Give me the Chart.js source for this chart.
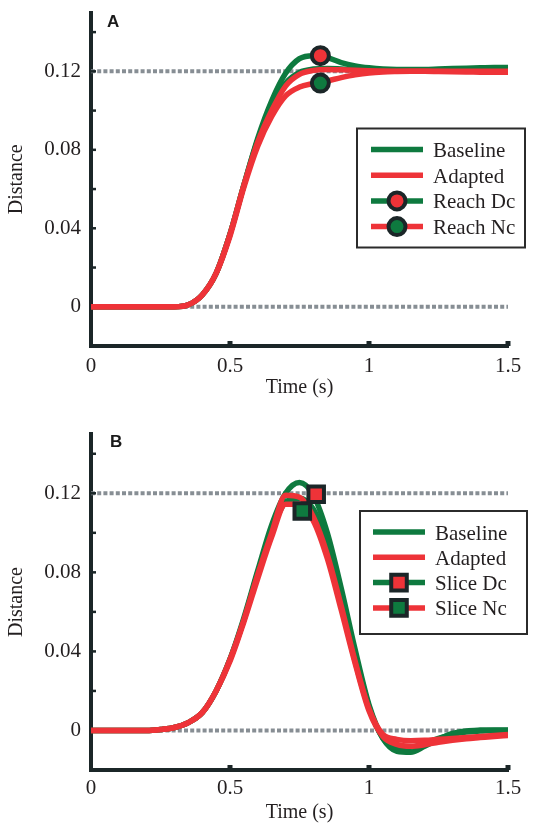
<!DOCTYPE html>
<html><head><meta charset="utf-8">
<script src="https://cdn.jsdelivr.net/npm/chart.js@4/dist/chart.umd.min.js"></script>
<style>
html,body{margin:0;padding:0;background:#fff;}
#wrap{position:relative;width:541px;height:826px;overflow:hidden;}
canvas{position:absolute;left:0;}
#cA{top:0;} #cB{top:413px;}
</style></head><body>
<div id="wrap"><canvas id="cA" width="541" height="413"></canvas><canvas id="cB" width="541" height="413"></canvas></div>
<script>
// ---------- data ----------
const time = [0,0.05,0.1,0.15,0.2,0.25,0.3,0.35,0.4,0.45,0.5,0.55,0.6,0.65,0.7,0.75,0.8,0.85,0.9,0.95,1,1.05,1.1,1.15,1.2,1.25,1.3,1.35,1.4,1.45,1.5];

// Panel A: reach
const reachBaselineDc = [0,0,0,0,0,0,0,0.001,0.006,0.017,0.037,0.062,0.086,0.105,0.119,0.1265,0.128,0.127,0.1245,0.1228,0.1218,0.1212,0.121,0.121,0.121,0.1212,0.1214,0.1216,0.1218,0.122,0.122];
const reachBaselineNc = [0,0,0,0,0,0,0,0.001,0.006,0.017,0.037,0.062,0.085,0.102,0.114,0.1195,0.1212,0.1215,0.1212,0.1208,0.1205,0.1203,0.1202,0.1202,0.1202,0.1202,0.1203,0.1203,0.1203,0.1204,0.1204];
const reachAdaptedDc  = [0,0,0,0,0,0,0,0.001,0.006,0.017,0.037,0.062,0.084,0.1,0.1125,0.1185,0.1205,0.121,0.1208,0.1205,0.1203,0.1202,0.1201,0.12,0.12,0.12,0.12,0.12,0.12,0.12,0.12];
const reachAdaptedNc  = [0,0,0,0,0,0,0,0.001,0.006,0.017,0.036,0.061,0.082,0.097,0.1075,0.112,0.1138,0.1152,0.1168,0.1182,0.1192,0.1197,0.1199,0.12,0.12,0.1199,0.1198,0.1197,0.1196,0.1195,0.1195];
const reachMarkerTime  = [0.825, 0.825];   // Dc, Nc
const reachMarkerValue = [0.128, 0.114];

// Panel B: slice
const sliceBaselineDc = [0,0,0,0,0,0.0005,0.0015,0.004,0.009,0.02,0.036,0.057,0.081,0.104,0.12,0.1255,0.119,0.1,0.072,0.041,0.013,-0.004,-0.0105,-0.011,-0.008,-0.0045,-0.0015,-0.0002,0.0002,0.0003,0.0002];
const sliceBaselineNc = [0,0,0,0,0,0.0005,0.0015,0.004,0.009,0.02,0.036,0.056,0.08,0.101,0.1155,0.1175,0.112,0.095,0.069,0.039,0.012,-0.004,-0.0085,-0.0085,-0.0065,-0.004,-0.002,-0.0008,-0.0003,0,0];
const sliceAdaptedDc  = [0,0,0,0,0,0.0005,0.0015,0.004,0.009,0.02,0.036,0.056,0.079,0.1,0.119,0.118,0.108,0.089,0.063,0.035,0.011,-0.002,-0.0045,-0.0052,-0.005,-0.0045,-0.004,-0.0035,-0.003,-0.0025,-0.002];
const sliceAdaptedNc  = [0,0,0,0,0,0.0005,0.0015,0.004,0.009,0.02,0.035,0.055,0.077,0.098,0.1145,0.1145,0.106,0.087,0.061,0.034,0.01,-0.003,-0.007,-0.008,-0.0072,-0.006,-0.005,-0.0042,-0.0036,-0.003,-0.0025];
const sliceMarkerTime  = [0.81, 0.76];     // Dc, Nc
const sliceMarkerValue = [0.1195, 0.111];

// reference (dotted) levels and axis ticks
const refLevels = [0, 0.12];
const xTickLabels = [0, 0.5, 1, 1.5];
const yTickLabels = [0, 0.04, 0.08, 0.12];
const xTickMarks = [0.5, 1, 1.5];
const yTickMarks = [0.02, 0.04, 0.06, 0.08, 0.1, 0.12, 0.14];
const legendLabelsA = ['Baseline', 'Adapted', 'Reach Dc', 'Reach Nc'];
const legendLabelsB = ['Baseline', 'Adapted', 'Slice Dc', 'Slice Nc'];
const panelTags = ['A', 'B'];

// ---------- styles ----------
const GREEN = '#0e7a3f', RED = '#ee3338', DARK = '#1b2628', GREY = '#878e94', TEXT = '#231f20';
const SERIF = '"Liberation Serif", "Times New Roman", serif';
const SANS = '"Liberation Sans", Arial, sans-serif';

function pts(xs, ys) { return xs.map((x, i) => ({x: x, y: ys[i]})); }
function curve(label, color, ys, order) {
  return {label, data: pts(time, ys), borderColor: color, backgroundColor: color, borderWidth: 5.5,
    pointRadius: 0, pointHoverRadius: 0, cubicInterpolationMode: 'monotone', fill: false, order,
    borderCapStyle: 'butt', borderJoinStyle: 'round'};
}
function refLine(y) {
  return {label: 'ref', data: [{x: time[0], y}, {x: time[time.length - 1], y}], borderColor: GREY,
    borderWidth: 4, borderDash: [4, 2.2], pointRadius: 0, order: 20, fill: false};
}
function marker(label, t, v, style, fill, r) {
  return {label, data: [{x: t, y: v}], showLine: false, pointStyle: style, pointRadius: r, pointHoverRadius: r,
    pointBackgroundColor: fill, pointBorderColor: DARK, pointBorderWidth: 4, order: 1};
}

const overlay = {
  id: 'overlay',
  afterDatasetsDraw(chart, args, o) {
    const ctx = chart.ctx, ca = chart.chartArea, xs = chart.scales.x, ys = chart.scales.y;
    ctx.save();
    // inward tick marks
    ctx.fillStyle = DARK;
    yTickMarks.forEach(v => { const py = ys.getPixelForValue(v); ctx.fillRect(ca.left, py - 1.25, 5, 2.5); });
    xTickMarks.forEach(v => { const px = xs.getPixelForValue(v); ctx.fillRect(px - 2.5, ca.bottom - 5, 5, 5); });
    // panel tag
    ctx.fillStyle = '#1a1a1a';
    ctx.font = 'bold 17px ' + SANS;
    ctx.textAlign = 'left'; ctx.textBaseline = 'middle';
    ctx.fillText(o.tag, ca.left + o.tagDx, ca.top + o.tagDy);
    // legend
    const L = o.legend;
    const bx = ca.left + L.dx, by = ca.top + L.dy;
    ctx.fillStyle = '#fff';
    ctx.fillRect(bx, by, L.w, L.h);
    ctx.strokeStyle = '#2b2b2b'; ctx.lineWidth = 2;
    ctx.strokeRect(bx, by, L.w, L.h);
    L.items.forEach((it, i) => {
      const cy = by + L.row0 + i * L.rowH;
      ctx.strokeStyle = it.line; ctx.lineWidth = 5.5; ctx.lineCap = 'butt';
      ctx.beginPath(); ctx.moveTo(bx + L.x0, cy); ctx.lineTo(bx + L.x1, cy); ctx.stroke();
      if (it.marker) {
        ctx.fillStyle = it.fill; ctx.strokeStyle = DARK; ctx.lineWidth = 4;
        Chart.helpers.drawPoint(ctx, {pointStyle: it.marker, rotation: 0, radius: it.r, borderWidth: 4},
          bx + (L.x0 + L.x1) / 2, cy);
      }
      ctx.fillStyle = TEXT; ctx.font = '21px ' + SERIF;
      ctx.textAlign = 'left'; ctx.textBaseline = 'middle';
      ctx.fillText(it.label, bx + L.tx, cy + 2);
    });
    ctx.restore();
  }
};

function makeConfig(datasets, c) {
  return {
    type: 'line',
    data: {datasets},
    plugins: [overlay],
    options: {
      responsive: false, animation: false, events: [],
      layout: {padding: {top: c.padTop, right: 33, left: 0, bottom: 0}},
      plugins: {legend: {display: false}, tooltip: {enabled: false}, overlay: c.overlay},
      scales: {
        x: {type: 'linear', min: 0, max: 1.5,
          afterBuildTicks: s => { s.ticks = xTickLabels.map(v => ({value: v})); },
          afterFit: s => { s.height = c.xH; s.paddingLeft = 0; s.paddingRight = 0; },
          grid: {display: false, drawTicks: false},
          border: {display: true, width: 4, color: DARK},
          ticks: {padding: c.xTickPad, color: TEXT, font: {family: SERIF, size: 21}, callback: v => String(v), maxRotation: 0, autoSkip: false},
          title: {display: true, text: 'Time (s)', color: TEXT, font: {family: SERIF, size: 20}, padding: {top: 0, bottom: c.xTitlePad}}
        },
        y: {type: 'linear', min: -0.02, max: 0.15,
          afterBuildTicks: s => { s.ticks = yTickLabels.map(v => ({value: v})); },
          afterFit: s => { s.width = 91; s.paddingTop = 0; s.paddingBottom = 0; },
          grid: {display: false, drawTicks: false},
          border: {display: true, width: 4, color: DARK},
          ticks: {padding: 10, color: TEXT, font: {family: SERIF, size: 21}, callback: v => String(v), autoSkip: false},
          title: {display: true, text: 'Distance', color: TEXT, font: {family: SERIF, size: 20}, padding: {top: 5, bottom: 0}}
        }
      }
    }
  };
}

const dsA = [
  marker('Reach Dc', reachMarkerTime[0], reachMarkerValue[0], 'circle', RED, 8.5),
  marker('Reach Nc', reachMarkerTime[1], reachMarkerValue[1], 'circle', GREEN, 8.5),
  curve('Adapted Nc', RED, reachAdaptedNc, 5),
  curve('Adapted Dc', RED, reachAdaptedDc, 6),
  curve('Baseline Nc', GREEN, reachBaselineNc, 7),
  curve('Baseline Dc', GREEN, reachBaselineDc, 8),
  ...refLevels.map(refLine)
];
const dsB = [
  marker('Slice Dc', sliceMarkerTime[0], sliceMarkerValue[0], 'rect', RED, 11),
  marker('Slice Nc', sliceMarkerTime[1], sliceMarkerValue[1], 'rect', GREEN, 11),
  curve('Adapted Nc', RED, sliceAdaptedNc, 5),
  curve('Adapted Dc', RED, sliceAdaptedDc, 6),
  curve('Baseline Nc', GREEN, sliceBaselineNc, 7),
  curve('Baseline Dc', GREEN, sliceBaselineDc, 8),
  ...refLevels.map(refLine)
];

function legendItems(labels, style, r) {
  return [
    {label: labels[0], line: GREEN},
    {label: labels[1], line: RED},
    {label: labels[2], line: GREEN, marker: style, fill: RED, r},
    {label: labels[3], line: RED, marker: style, fill: GREEN, r}
  ];
}

new Chart(document.getElementById('cA'), makeConfig(dsA, {
  padTop: 10, xH: 67, xTickPad: 8, xTitlePad: 13,
  overlay: {tag: panelTags[0], tagDx: 16, tagDy: 10,
    legend: {dx: 266, dy: 116, w: 168, h: 119, row0: 21, rowH: 25.7, x0: 14, x1: 66, tx: 76,
      items: legendItems(legendLabelsA, 'circle', 8.5)}}
}));
new Chart(document.getElementById('cB'), makeConfig(dsB, {
  padTop: 21, xH: 56, xTickPad: 6, xTitlePad: 1,
  overlay: {tag: panelTags[1], tagDx: 19, tagDy: 8,
    legend: {dx: 269, dy: 77, w: 167, h: 123, row0: 21, rowH: 25.3, x0: 13, x1: 65, tx: 75,
      items: legendItems(legendLabelsB, 'rect', 11)}}
}));
</script>
</body></html>
